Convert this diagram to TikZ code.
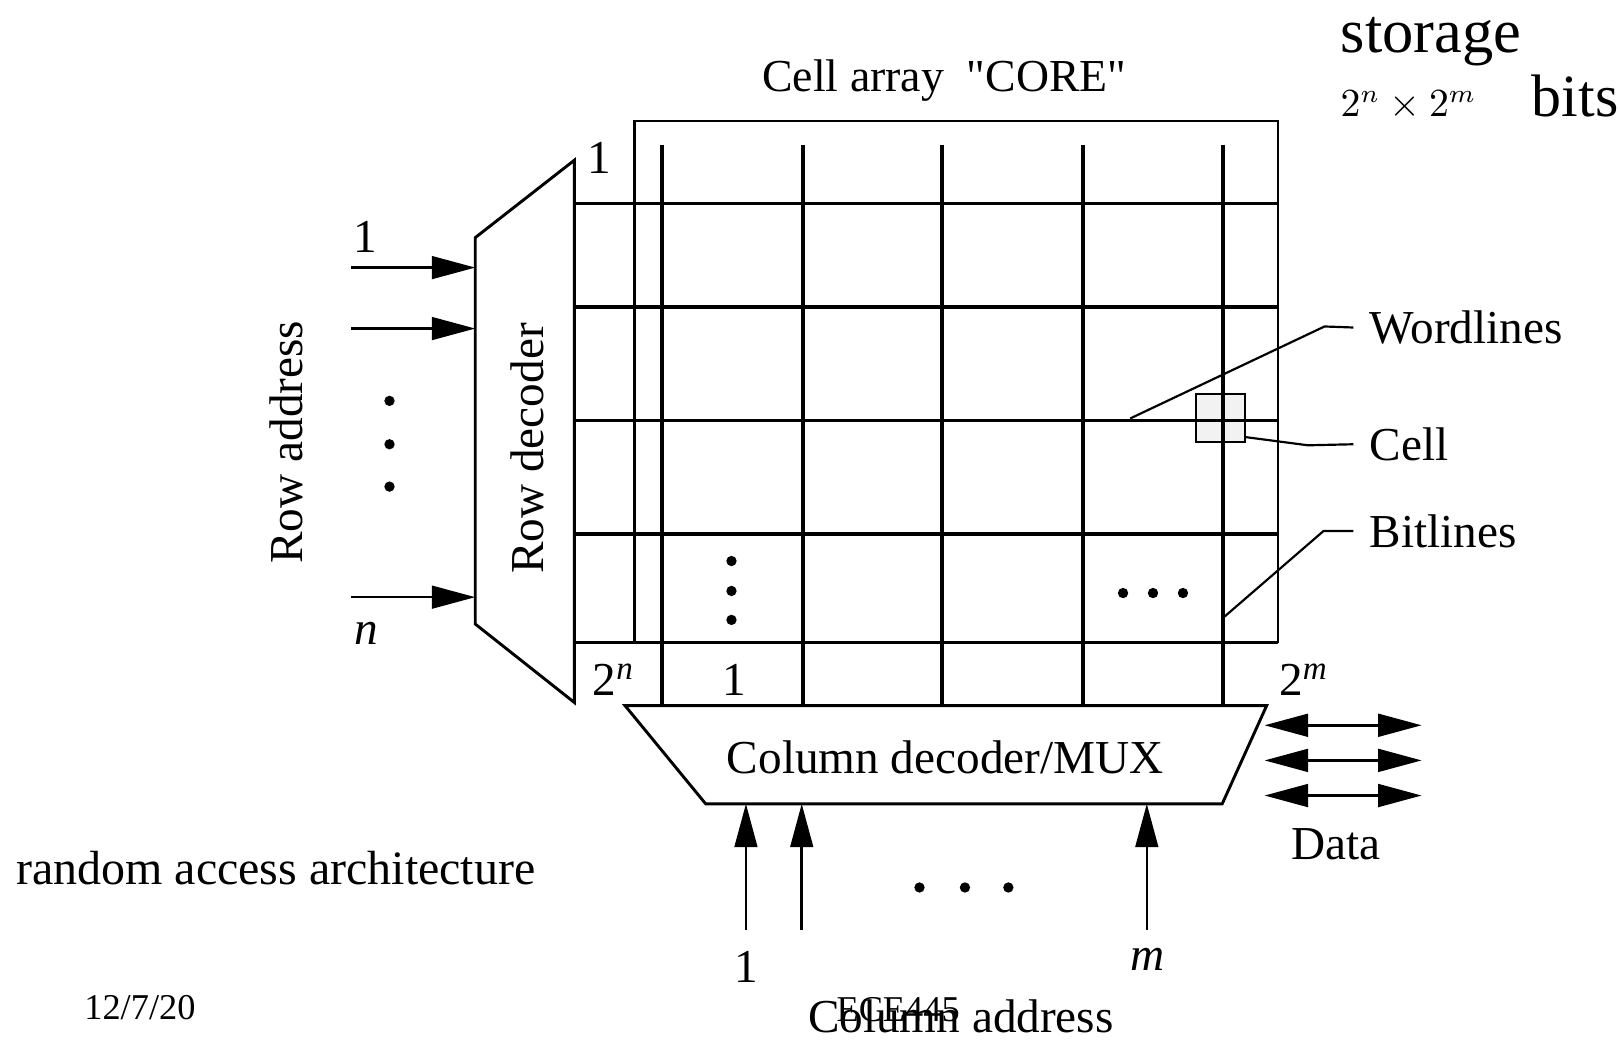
\documentclass[tikz,border=0pt]{standalone}
\usepackage{fontspec}
\setmainfont{Liberation Serif}[Ligatures=TeXOff]
\usetikzlibrary{arrows.meta}
\tikzset{
  ramline/.style={line width=1pt},
  ramframe/.style={line width=0.75pt},
  ramdec/.style={line width=0.8pt},
  ramleader/.style={line width=0.6pt},
  ramaddr/.style={-{Triangle[length=4.2mm,width=2.2mm]}, line width=0.7pt},
  ramdata/.style={{Triangle[length=4.2mm,width=2.2mm]}-{Triangle[length=4.2mm,width=2.2mm]}, line width=0.7pt},
  ramlbl/.style={font=\fontsize{13}{15}\selectfont, inner sep=0pt},
  ramtag/.style={ramlbl, anchor=west, inner xsep=1.5mm},
  ramidx/.style={ramlbl, anchor=base},
  ramdot/.style={circle, fill, inner sep=0pt, minimum size=1mm},
  ramslide/.style={inner sep=0pt, anchor=base west}
}
\begin{document}
\begin{tikzpicture}[x=0.01cm, y=-0.01cm]
  \useasboundingbox (0,0) rectangle (1568,1006);

  % row decoder
  \coordinate (rdTL) at (460,230); \coordinate (rdTR) at (556,155);
  \coordinate (rdBR) at (556,680); \coordinate (rdBL) at (460,604);
  \draw[ramdec] (rdTL)--(rdTR)--(rdBR)--(rdBL)--cycle;
  \node[ramlbl, rotate=90] (rowdec) at (510,434) {Row decoder};

  % cell array
  \fill[black!5] (1158,381) rectangle (1205,428);
  \draw[ramframe] (614,622) -- (614,117) -- (1237,117) -- (1237,622);
  \foreach \y in {197,297,407,517,622} \draw[ramline] (556,\y) -- (1237,\y);
  \foreach \x in {641,777,912,1048,1184} \draw[ramline] (\x,140) -- (\x,683);
  \draw[ramleader] (1158,381) rectangle (1205,428);
  \node[ramidx, font=\fontsize{12.6}{15}\selectfont] (core) at (914,89) {Cell array \ "CORE"};

  % column decoder
  \coordinate (cdTL) at (605,683); \coordinate (cdTR) at (1226,683);
  \coordinate (cdBR) at (1183,778); \coordinate (cdBL) at (683,778);
  \draw[ramdec] (cdTL)--(cdTR)--(cdBR)--(cdBL)--cycle;
  \node[ramlbl] (coldec) at (915,733) {Column decoder/MUX};

  % index labels
  \node[ramidx] (wfirst) at (580,168) {1};
  \node[ramidx] (wlast) at (594,673) {2\textsuperscript{\itshape n}};
  \node[ramidx] (bfirst) at (711,673) {1};
  \node[ramidx] (blast) at (1262,673) {2\textsuperscript{\itshape m}};

  % dots in the array
  \foreach \y [count=\i] in {543,572,600} \node[ramdot] (vd\i) at (708,\y) {};
  \foreach \x [count=\i] in {1087,1116,1145} \node[ramdot] (hd\i) at (\x,574) {};

  % leaders
  \node[ramtag] (wl) at (1310,317) {Wordlines};
  \node[ramtag] (cl) at (1310,430) {Cell};
  \node[ramtag] (bl) at (1310,514) {Bitlines};
  \coordinate (wlp) at (1094,405); \coordinate (clp) at (1205,423); \coordinate (blp) at (1185,597);
  \draw[ramleader] (wlp) -- (1282,316) -- (wl.west);
  \draw[ramleader] (clp) -- (1266,431) -- (cl.west);
  \draw[ramleader] (blp) -- (1281,514) -- (bl.west);

  % row address
  \foreach \y [count=\i] in {259,318,578} {
    \coordinate (ra\i) at (340,\y);
    \draw[ramaddr] (ra\i) -- (ra\i -| rdTL);
  }
  \node[ramidx] (rafirst) at (354,244) {1};
  \node[ramidx] (ralast) at (355,624) {\itshape n};
  \foreach \y [count=\i] in {388,430,471} \node[ramdot] (rd\i) at (377,\y) {};
  \node[ramlbl, rotate=90] (rowaddr) at (277,428) {Row address};

  % column address
  \foreach \x [count=\i] in {722,776,1110} {
    \coordinate (ca\i) at (\x,900);
    \draw[ramaddr] (ca\i) -- (ca\i |- cdBL);
  }
  \node[ramidx] (cafirst) at (722,951) {1};
  \node[ramidx] (calast) at (1111,939) {\itshape m};
  \foreach \x [count=\i] in {890,934,976} \node[ramdot] (cd\i) at (\x,859) {};
  \node[ramidx] (coladdr) at (930,999) {Column address};

  % data
  \foreach \y [count=\i] in {702,736,770} {
    \coordinate (dl\i) at (1224,\y); \coordinate (dr\i) at (1376,\y);
    \draw[ramdata] (dl\i) -- (dr\i);
  }
  \node[ramidx] (datalbl) at (1293,832) {Data};

  % slide text
  \node[ramslide, font=\fontsize{17.2}{20}\selectfont] (storage) at (1297,51) {storage};
  \node[ramslide, font=\fontsize{10.5}{13}\selectfont] (size) at (1297,113) {$2^n\times 2^m$};
  \node[ramslide, font=\fontsize{16.5}{19}\selectfont] (bits) at (1482,113) {bits};
  \node[ramslide, font=\fontsize{13.2}{15}\selectfont] (arch) at (15,856) {random access architecture};
  \node[ramslide, font=\fontsize{10}{12}\selectfont] (date) at (81,987) {12/7/20};
  \node[ramslide, font=\fontsize{10}{12}\selectfont] (course) at (809,989) {ECE445};
\end{tikzpicture}
\end{document}
